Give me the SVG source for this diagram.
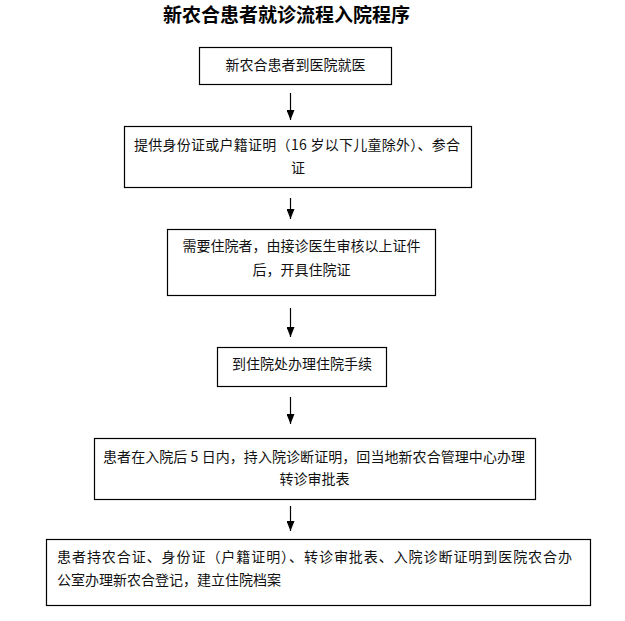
<svg xmlns="http://www.w3.org/2000/svg" width="625" height="621" viewBox="0 0 625 621">
<style>
.box{fill:#fff;stroke:#000;stroke-width:1.2}
.t{font-family:"Noto Sans CJK SC","Noto Sans",sans-serif;font-size:14px;fill:#111}
.c{text-anchor:middle}
.title{font-family:"Noto Sans CJK SC","Noto Sans",sans-serif;font-size:19px;font-weight:bold;fill:#000;text-anchor:middle}
.conn line{stroke:#000;stroke-width:1.2}
</style>
<defs>
<marker id="ah" markerWidth="10" markerHeight="8" refX="10" refY="4" orient="auto" markerUnits="userSpaceOnUse" viewBox="0 0 10 8">
<path d="M0,0 L10,4 L0,8 Z" fill="#000"/>
</marker>
</defs>
<rect width="625" height="621" fill="#fff"/>
<text class="title" x="286.5" y="22">新农合患者就诊流程入院程序</text>
<g id="n1"><rect class="box" x="199.5" y="47.5" width="192" height="37"/><text class="t c" x="295.5" y="70">新农合患者到医院就医</text></g>
<g id="n2"><rect class="box" x="124.5" y="126.5" width="347" height="61"/><text class="t c" x="297" y="150" textLength="326" lengthAdjust="spacing">提供身份证或户籍证明（16 岁以下儿童除外）、参合</text><text class="t c" x="298" y="173">证</text></g>
<g id="n3"><rect class="box" x="167.5" y="229.5" width="268" height="66"/><text class="t c" x="301.5" y="251">需要住院者，由接诊医生审核以上证件</text><text class="t c" x="301.5" y="275">后，开具住院证</text></g>
<g id="n4"><rect class="box" x="217.5" y="347.5" width="169" height="39"/><text class="t c" x="302" y="369">到住院处办理住院手续</text></g>
<g id="n5"><rect class="box" x="94.5" y="438.5" width="441" height="61"/><text class="t c" x="314" y="462" textLength="422" lengthAdjust="spacing">患者在入院后 5 日内，持入院诊断证明，回当地新农合管理中心办理</text><text class="t c" x="314.5" y="484">转诊审批表</text></g>
<g id="n6"><rect class="box" x="46.5" y="539.5" width="544" height="66"/><text class="t" x="57" y="562" textLength="515" lengthAdjust="spacing">患者持农合证、身份证（户籍证明）、转诊审批表、入院诊断证明到医院农合办</text><text class="t" x="57" y="585">公室办理新农合登记，建立住院档案</text></g>
<g id="connectors" class="conn">
<line x1="290.5" y1="93" x2="290.5" y2="120" marker-end="url(#ah)"/>
<line x1="290.5" y1="198" x2="290.5" y2="219" marker-end="url(#ah)"/>
<line x1="290.5" y1="308" x2="290.5" y2="337" marker-end="url(#ah)"/>
<line x1="290.5" y1="397" x2="290.5" y2="424" marker-end="url(#ah)"/>
<line x1="290.5" y1="506" x2="290.5" y2="531" marker-end="url(#ah)"/>
</g>
</svg>
